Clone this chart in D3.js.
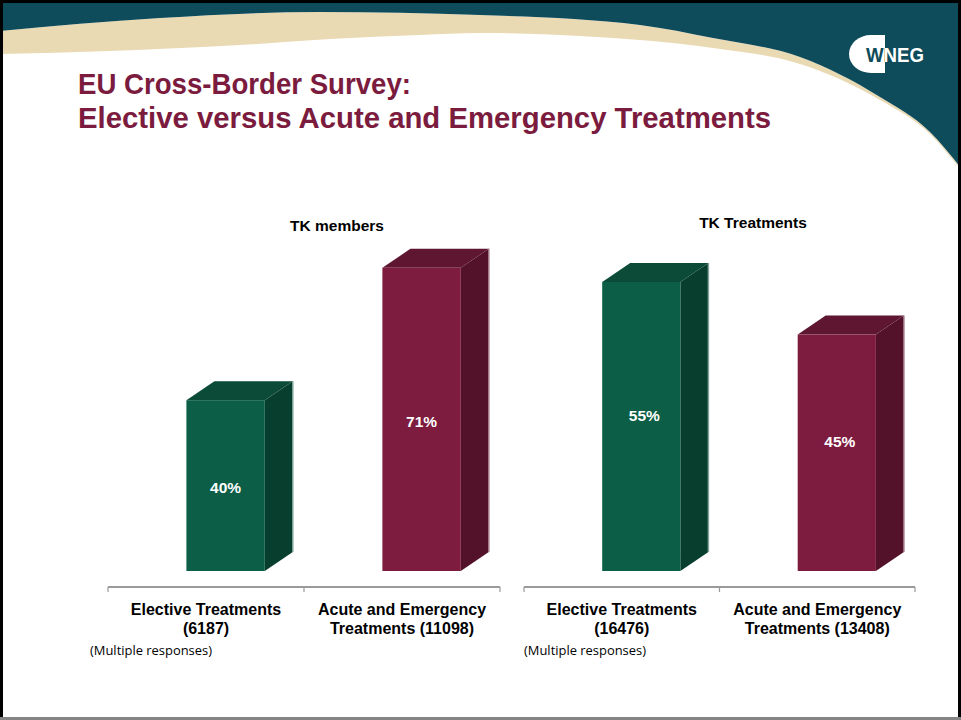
<!DOCTYPE html>
<html>
<head>
<meta charset="utf-8">
<script src="https://cdn.jsdelivr.net/npm/d3@7"></script>
<style>
  html, body { margin: 0; padding: 0; background: #fff; }
  svg { display: block; font-family: "Liberation Sans", Arial, Helvetica, sans-serif; }
</style>
</head>
<body>
<svg id="slide" width="961" height="720"></svg>
<script>
// ---- data ----
const categoriesMembers = [["Elective Treatments", "(6187)"], ["Acute and Emergency", "Treatments (11098)"]];
const categoriesTreatments = [["Elective Treatments", "(16476)"], ["Acute and Emergency", "Treatments (13408)"]];
const membersValues = [40, 71];
const treatmentsValues = [55, 45];
const valueLabelsMembers = ["40%", "71%"];
const valueLabelsTreatments = ["55%", "45%"];
const chartTitles = ["TK members", "TK Treatments"];
const slideTitle = ["EU Cross-Border Survey:", "Elective versus Acute and Emergency Treatments"];
const footnote = "(Multiple responses)";

// ---- palette ----
const teal = "#0e4b5b";
const beige = "#e9dab4";
const maroonText = "#7b1b3e";
const palettes = [
  { front: "#0d5e46", top: "#0b4b38", side: "#083e2e", edge: "#7ea597" },
  { front: "#7d1c3e", top: "#5f1631", side: "#53122a", edge: "#a57a8a" }
];

const svg = d3.select("#slide");
const W = 961, H = 720;

// ---- header band: teal sky with a beige swoosh ----
const outerCurve = [[0,31],[160,18],[320,12],[480,15],[640,25],[713,38],[800,57],[880,97],[930,132],[961,168]];
const innerCurve = [[0,54],[110,51],[240,45],[330,39],[420,35],[480,33],[580,36],[713,48],[800,64],[880,100],[930,134],[961,170]];
const curveLine = d3.line().curve(d3.curveMonotoneX);

const innerRev = innerCurve.slice().reverse();
const beigeD = curveLine(outerCurve) + "L" + curveLine(innerRev).slice(1) + "Z";
svg.append("path").attr("d", beigeD).attr("fill", beige);

const tealD = "M0,0L" + W + ",0L" + W + ",168L" + curveLine(outerCurve.slice().reverse()).slice(1) + "Z";
svg.append("path").attr("d", tealD).attr("fill", teal);

// ---- logo ----
const logo = svg.append("g");
const dShape = "M885,35 L871,35 A22,19 0 0 0 871,73 L885,73 Z";
svg.append("defs").append("clipPath").attr("id", "logoClip").append("path").attr("d", dShape);
logo.append("path").attr("d", dShape).attr("fill", "#ffffff");
const logoText = (fill) => logo.append("text").attr("x", 866).attr("y", 62).attr("font-size", 21)
  .attr("font-weight", "bold").attr("textLength", 58).attr("lengthAdjust", "spacingAndGlyphs")
  .attr("fill", fill).text("WNEG");
logoText("#ffffff");
logoText(teal).attr("clip-path", "url(#logoClip)");

// ---- slide title ----
svg.append("text").attr("x", 78).attr("y", 94).attr("font-size", 29.5).attr("font-weight", "bold")
  .attr("textLength", 333).attr("lengthAdjust", "spacingAndGlyphs")
  .attr("fill", maroonText).text(slideTitle[0]);
svg.append("text").attr("x", 78).attr("y", 128).attr("font-size", 29.5).attr("font-weight", "bold")
  .attr("textLength", 693).attr("lengthAdjust", "spacingAndGlyphs")
  .attr("fill", maroonText).text(slideTitle[1]);

// ---- 3D bar charts ----
const depth = { dx: 28, dy: -19 };
const yBase = 571;

function drawChart(opts) {
  const g = svg.append("g");
  const x = d3.scaleBand().domain(d3.range(opts.values.length)).range([opts.x0, opts.x1]).padding(0);
  const y = d3.scaleLinear().domain([0, 100]).range([yBase, yBase - opts.pxPer100]);
  const bw = x.bandwidth();
  const w = bw * 0.4;

  // chart title
  g.append("text").attr("x", opts.titleX).attr("y", opts.titleY).attr("text-anchor", "middle")
    .attr("font-size", 15.5).attr("font-weight", "bold").attr("fill", "#000").text(opts.title);

  opts.values.forEach((v, i) => {
    const pal = palettes[i];
    const xl = x(i) + bw * 0.4;
    const xr = xl + w;
    const yt = y(v);
    const y0 = y(0);
    const { dx, dy } = depth;
    // side face
    g.append("path")
      .attr("d", `M${xr},${yt}L${xr + dx},${yt + dy}L${xr + dx},${y0 + dy}L${xr},${y0}Z`)
      .attr("fill", pal.side);
    g.append("line").attr("x1", xr + dx).attr("x2", xr + dx).attr("y1", yt + dy).attr("y2", y0 + dy)
      .attr("stroke", pal.edge).attr("stroke-width", 1.5);
    // top face
    g.append("path")
      .attr("d", `M${xl},${yt}L${xr},${yt}L${xr + dx},${yt + dy}L${xl + dx},${yt + dy}Z`)
      .attr("fill", pal.top);
    // front face
    g.append("rect").attr("x", xl).attr("y", yt).attr("width", w).attr("height", y0 - yt)
      .attr("fill", pal.front);
    // value label
    g.append("text").attr("x", (xl + xr) / 2 + opts.labelDx).attr("y", (yt + y0) / 2 + opts.labelDy)
      .attr("text-anchor", "middle").attr("dominant-baseline", "central")
      .attr("font-size", 15.5).attr("font-weight", "bold").attr("fill", "#ffffff")
      .text(opts.labels[i]);
  });

  // category axis line with ticks
  const axisY = 587;
  g.append("line").attr("x1", opts.x0).attr("x2", opts.x1).attr("y1", axisY).attr("y2", axisY)
    .attr("stroke", "#9a9a9a").attr("stroke-width", 2);
  [opts.x0, x(1), opts.x1].forEach(t => {
    g.append("line").attr("x1", t).attr("x2", t).attr("y1", axisY).attr("y2", axisY + 5)
      .attr("stroke", "#9a9a9a").attr("stroke-width", 1.2);
  });

  // category labels
  opts.categories.forEach((lines, i) => {
    const cx = x(i) + bw / 2;
    const t = g.append("text").attr("text-anchor", "middle").attr("font-size", 16)
      .attr("font-weight", "bold").attr("fill", "#000");
    lines.forEach((ln, k) => {
      t.append("tspan").attr("x", cx).attr("y", 615 + k * 18.5).text(ln);
    });
  });

  // footnote
  g.append("text").attr("x", opts.noteX).attr("y", 655)
    .style("font-family", "'Open Sans', 'Liberation Sans', sans-serif").style("font-size", "12px")
    .attr("textLength", 122).attr("lengthAdjust", "spacingAndGlyphs")
    .attr("fill", "#000").text(footnote);
}

drawChart({
  values: membersValues, labels: valueLabelsMembers, categories: categoriesMembers,
  x0: 108, x1: 500, pxPer100: 427, title: chartTitles[0], titleX: 337, titleY: 231,
  labelDx: 0, labelDy: 2, noteX: 90
});
drawChart({
  values: treatmentsValues, labels: valueLabelsTreatments, categories: categoriesTreatments,
  x0: 524, x1: 915, pxPer100: 525.5, title: chartTitles[1], titleX: 753, titleY: 228,
  labelDx: 3, labelDy: -11, noteX: 524
});

// ---- slide frame ----
svg.append("rect").attr("x", 0).attr("y", 0).attr("width", W).attr("height", 3).attr("fill", "#000");
svg.append("rect").attr("x", 0).attr("y", 0).attr("width", 3).attr("height", H).attr("fill", "#000");
svg.append("rect").attr("x", W - 3).attr("y", 0).attr("width", 3).attr("height", H).attr("fill", "#000");
svg.append("rect").attr("x", 0).attr("y", H - 3).attr("width", W).attr("height", 3).attr("fill", "#858585");
</script>
</body>
</html>
